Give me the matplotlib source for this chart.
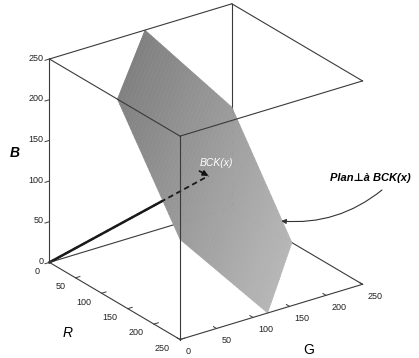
import numpy as np
import matplotlib
matplotlib.use("Agg")
import matplotlib.pyplot as plt
from matplotlib.text import Annotation
from mpl_toolkits.mplot3d import proj3d
from mpl_toolkits.mplot3d.art3d import Poly3DCollection

# ---------------- data ----------------
ticks = [0, 50, 100, 150, 200, 250]
tick_labels = ["0", "50", "100", "150", "200", "250"]
# hexagonal section of the RGB cube by the plane perpendicular to BCK(x)
plane_R = [0, 130, 250, 250, 115, 0]
plane_G = [131, 0, 0, 120, 250, 250]
plane_B = [250, 250, 123, 0, 0, 123]
bck_tip = [127, 127, 120]          # end of vector BCK(x)
plane_pointer = [100, 246, 22]     # point of the plane the label arrow points to
cube_max = 250

plt.rcParams["font.family"] = ["Liberation Sans", "DejaVu Sans"]

fig = plt.figure(figsize=(4.19, 3.58), dpi=100)
ax = fig.add_axes([-0.020, 0.007, 1, 1], projection="3d", computed_zorder=False)
ax.set_proj_type("ortho")
ax.view_init(elev=25, azim=-35.6)
ax.set_xlim(0, cube_max)
ax.set_ylim(0, cube_max)
ax.set_zlim(0, cube_max)
ax.set_box_aspect((1, 1, 1), zoom=1.054)
ax.set_axis_off()


class Annotation3D(Annotation):
    def __init__(self, text, xyz, *args, **kwargs):
        super().__init__(text, xy=(0, 0), *args, **kwargs)
        self._xyz = xyz

    def draw(self, renderer):
        x2, y2, _ = proj3d.proj_transform(*self._xyz, self.axes.M)
        self.xy = (x2, y2)
        super().draw(renderer)


def add3d(a):
    ax.add_artist(a)
    a.set_clip_on(False)
    if a.arrow_patch is not None:
        a.arrow_patch.set_clip_on(False)
    return a


def text3d(xyz, s, **kw):
    return add3d(Annotation3D(s, xyz, xytext=(0, 0), textcoords="offset points", **kw))


M = cube_max
edge_kw = dict(color="#3a3a3a", lw=0.8)
# back edges (partly hidden by the plane)
back_edges = [((0, 0, 0), (0, M, 0)), ((0, M, 0), (M, M, 0)), ((0, M, 0), (0, M, M))]
for a, b in back_edges:
    ax.plot([a[0], b[0]], [a[1], b[1]], [a[2], b[2]], zorder=1, **edge_kw)

# vector BCK(x), from origin, behind the plane
ax.plot([0, bck_tip[0]], [0, bck_tip[1]], [0, bck_tip[2]], color="#1a1a1a", lw=1.8, zorder=1.5)

# plane with a grey gradient
hexa = [np.array(p, float) for p in zip(plane_R, plane_G, plane_B)]
s_of = lambda p: p[2] - (p[0] + p[1]) / 2.0


def clip(poly, f, lo, keep_above=True):
    out = []
    n = len(poly)
    for i in range(n):
        p, q = poly[i], poly[(i + 1) % n]
        fp, fq = f(p) - lo, f(q) - lo
        if not keep_above:
            fp, fq = -fp, -fq
        if fp >= 0:
            out.append(p)
        if fp * fq < 0:
            t = fp / (fp - fq)
            out.append(p + t * (q - p))
    return out


levels = np.linspace(-190, 190, 61)
dark, light = np.array([0.50, 0.50, 0.50]), np.array([0.72, 0.72, 0.72])
polys, cols = [], []
for lo, hi in zip(levels[:-1], levels[1:]):
    pc = clip(clip(hexa, s_of, lo, True), s_of, hi, False)
    if len(pc) >= 3:
        polys.append([tuple(p) for p in pc])
        t = ((lo + hi) / 2 + 190) / 380
        cols.append(tuple(light + (dark - light) * t))
pcoll = Poly3DCollection(polys, facecolors=cols, edgecolors=cols, linewidths=0.4, zorder=2)
ax.add_collection3d(pcoll)

# dashed part of BCK(x) seen on the plane
ax.plot([0, bck_tip[0]], [0, bck_tip[1]], [0, bck_tip[2]], color="#1a1a1a", lw=1.3,
        ls=(0, (3, 2)), zorder=3)

# front edges
front_edges = [((0, 0, M), (0, M, M)), ((0, 0, M), (M, 0, M)), ((M, 0, M), (M, M, M)),
               ((0, M, M), (M, M, M)), ((M, 0, 0), (M, 0, M)),
               ((0, 0, 0), (M, 0, 0)), ((M, 0, 0), (M, M, 0)), ((0, 0, 0), (0, 0, M))]
for a, b in front_edges:
    ax.plot([a[0], b[0]], [a[1], b[1]], [a[2], b[2]], zorder=3, **edge_kw)

# ticks and tick labels
tk = dict(color="#3a3a3a", lw=0.7, zorder=3)
lab = dict(fontsize=6.5, color="#222222", zorder=5)
for v, s in zip(ticks, tick_labels):
    # B axis
    ax.plot([0, 0], [0, -6], [v, v], **tk)
    text3d((-6, -4, v), s, ha="right", va="center", **lab)
    # R axis
    ax.plot([v, v], [0, 6], [0, 0], **tk)
    text3d((v, -14, -7), s, ha="right", va="center", **lab)
    # G axis
    ax.plot([M, M - 6], [v, v], [0, 0], **tk)
    text3d((M + 10, v, -11), s, ha="left", va="center", **lab)

# arrow head of BCK(x)
a1 = add3d(Annotation3D("", bck_tip, xytext=(-6.5, 3.5), textcoords="offset points",
                        arrowprops=dict(arrowstyle="-|>", color="#111111", lw=1.2,
                                        mutation_scale=8, shrinkA=0, shrinkB=0)))
a1.set_zorder(6)

# arrow to the plane
a2 = add3d(Annotation3D("", plane_pointer, xytext=(382 / 419, 1 - 190 / 358),
                        textcoords="figure fraction",
                        arrowprops=dict(arrowstyle="-|>", color="#333333", lw=0.8,
                                        mutation_scale=7, shrinkA=0, shrinkB=0,
                                        connectionstyle="arc3,rad=-0.2")))
a2.set_zorder(6)

# labels
fig.text(216 / 419, 1 - 163 / 358, "BCK(x)", color="white", fontsize=7.5, style="italic",
         ha="center", va="center", zorder=7)
fig.text(330 / 419, 1 - 178 / 358, "Plan\u22a5\u00e0 BCK(x)", fontsize=8, style="italic",
         weight="bold", ha="left", va="center", family=["Liberation Sans", "DejaVu Sans"])
fig.text(15 / 419, 1 - 153 / 358, "B", fontsize=10, style="italic", weight="bold",
         ha="center", va="center")
fig.text(68 / 419, 1 - 333 / 358, "R", fontsize=10, style="italic", ha="center", va="center")
fig.text(309 / 419, 1 - 350 / 358, "G", fontsize=10, ha="center", va="center")

fig.savefig("out.png", dpi=100)
